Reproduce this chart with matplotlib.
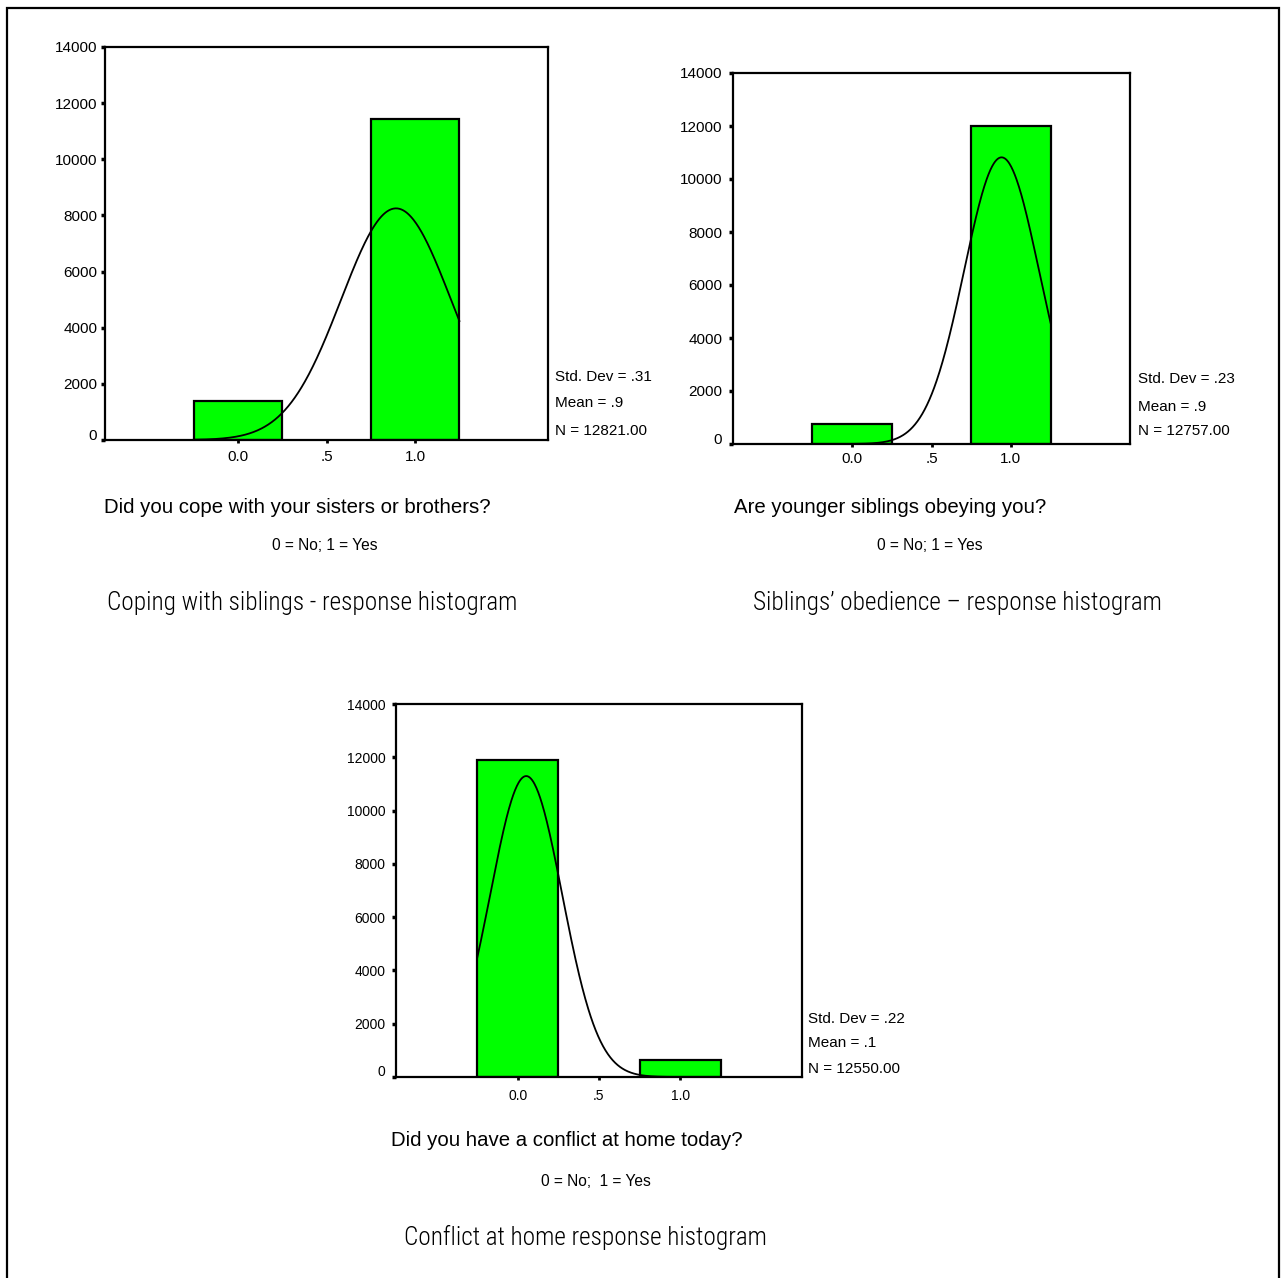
import numpy as np
import matplotlib
matplotlib.use("Agg")
import matplotlib.pyplot as plt
from matplotlib.patches import Rectangle
from matplotlib.transforms import ScaledTranslation
from matplotlib import font_manager as fm

# ---------------- data ----------------
categories = [0.0, 1.0]
xtick_vals = [0.0, 0.5, 1.0]
xtick_labels = ["0.0", ".5", "1.0"]
ytick_vals = [0, 2000, 4000, 6000, 8000, 10000, 12000, 14000]

counts_coping = [1380, 11441]
counts_obey = [750, 12007]
counts_conflict = [11900, 650]

sd_text = [".31", ".23", ".22"]
mean_text = [".9", ".9", ".1"]
n_text = ["12821.00", "12757.00", "12550.00"]

titles = ["Did you cope with your sisters or brothers?",
          "Are younger siblings obeying you?",
          "Did you have a conflict at home today?"]
subtitles = ["0 = No; 1 = Yes", "0 = No; 1 = Yes", "0 = No;  1 = Yes"]
captions = ["Coping with siblings - response histogram",
            "Siblings\u2019 obedience \u2013 response histogram",
            "Conflict at home response histogram"]

# ---------------- figure ----------------
W, H = 1282, 1278
fig = plt.figure(figsize=(W / 100, H / 100), dpi=100)

fonts = fm.fontManager.ttflist
avail = {f.name for f in fonts}
base = ["Liberation Sans", "DejaVu Sans"]
plt.rcParams["font.family"] = base

cap_kw = dict(family=base, fontsize=15.8)
for cand in ["Liberation Sans Narrow", "Arial Narrow", "Roboto Condensed",
             "Open Sans Condensed", "DejaVu Sans Condensed"]:
    if cand in avail:
        cap_kw = dict(family=[cand, "DejaVu Sans"], fontsize=18.2, fontweight="light")
        break
else:
    if any(f.name == "DejaVu Sans" and f.stretch in ("condensed", "semi-condensed")
           for f in fonts):
        cap_kw = dict(family=["DejaVu Sans"], fontstretch="condensed", fontsize=17)


def fx(px):
    return px / W


def fy(py):
    return 1 - py / H


# outer border
fig.add_artist(Rectangle((fx(7), fy(1300)), fx(1279) - fx(7), fy(8) - fy(1300),
                         transform=fig.transFigure, fill=False, lw=1.6, ec="black"))

panels = [
    dict(counts=counts_coping, box=(105, 47, 548, 440), tick_fs=11, xpad=5, ypad=2.5,
         stat_x=555, stat_y=(377, 403, 431), stat_fs=11,
         title=(297, 507), sub=(325, 546), cap=(312, 603)),
    dict(counts=counts_obey, box=(733, 73, 1130, 444), tick_fs=11, xpad=3.5, ypad=4.7,
         stat_x=1138, stat_y=(379, 407, 431), stat_fs=11,
         title=(890, 507), sub=(930, 546), cap=(957, 603)),
    dict(counts=counts_conflict, box=(396, 704, 802, 1077), tick_fs=10, xpad=7, ypad=4.7,
         stat_x=808, stat_y=(1019, 1043, 1069), stat_fs=11,
         title=(567, 1141), sub=(596, 1182), cap=(585, 1237)),
]

binw = 0.5
for i, p in enumerate(panels):
    l, t, r, b = p["box"]
    ax = fig.add_axes([fx(l), fy(b), fx(r) - fx(l), fy(t) - fy(b)])
    cnt = np.array(p["counts"], dtype=float)
    ax.bar(categories, cnt, width=binw, color="#00ff00", edgecolor="black",
           linewidth=1.6, zorder=2)
    # fitted normal curve derived from the histogram data
    vals = np.array(categories)
    N = cnt.sum()
    mu = (cnt * vals).sum() / N
    sd = np.sqrt((cnt * (vals - mu) ** 2).sum() / (N - 1))
    xs = np.linspace(vals.min() - binw / 2, vals.max() + binw / 2, 400)
    ys = N * binw * np.exp(-0.5 * ((xs - mu) / sd) ** 2) / (sd * np.sqrt(2 * np.pi))
    ax.plot(xs, ys, color="black", lw=1.3, zorder=3)

    ax.set_xlim(-0.75, 1.75)
    ax.set_ylim(0, 14000)
    ax.set_yticks(ytick_vals)
    ax.set_yticklabels([str(v) for v in ytick_vals], fontsize=p["tick_fs"])
    ax.set_xticks(xtick_vals)
    ax.set_xticklabels(xtick_labels, fontsize=p["tick_fs"])
    ax.tick_params(axis="y", direction="out", length=3, width=2.5, pad=p["ypad"])
    ax.tick_params(axis="x", direction="out", length=2, width=2, pad=p["xpad"])
    for s in ax.spines.values():
        s.set_linewidth(1.6)
    # the zero label sits slightly above its tick in the reference
    zl = ax.get_yticklabels()[0]
    zl.set_transform(zl.get_transform() + ScaledTranslation(0, 6 / 100, fig.dpi_scale_trans))

    for yy, txt in zip(p["stat_y"], ["Std. Dev = " + sd_text[i],
                                      "Mean = " + mean_text[i],
                                      "N = " + n_text[i]]):
        fig.text(fx(p["stat_x"]), fy(yy), txt, fontsize=p["stat_fs"],
                 ha="left", va="center")

    fig.text(fx(p["title"][0]), fy(p["title"][1]), titles[i], fontsize=14.7,
             ha="center", va="center")
    fig.text(fx(p["sub"][0]), fy(p["sub"][1]), subtitles[i], fontsize=11.2,
             ha="center", va="center")
    fig.text(fx(p["cap"][0]), fy(p["cap"][1]), captions[i],
             ha="center", va="center", **cap_kw)

fig.savefig("out.png", dpi=100)
